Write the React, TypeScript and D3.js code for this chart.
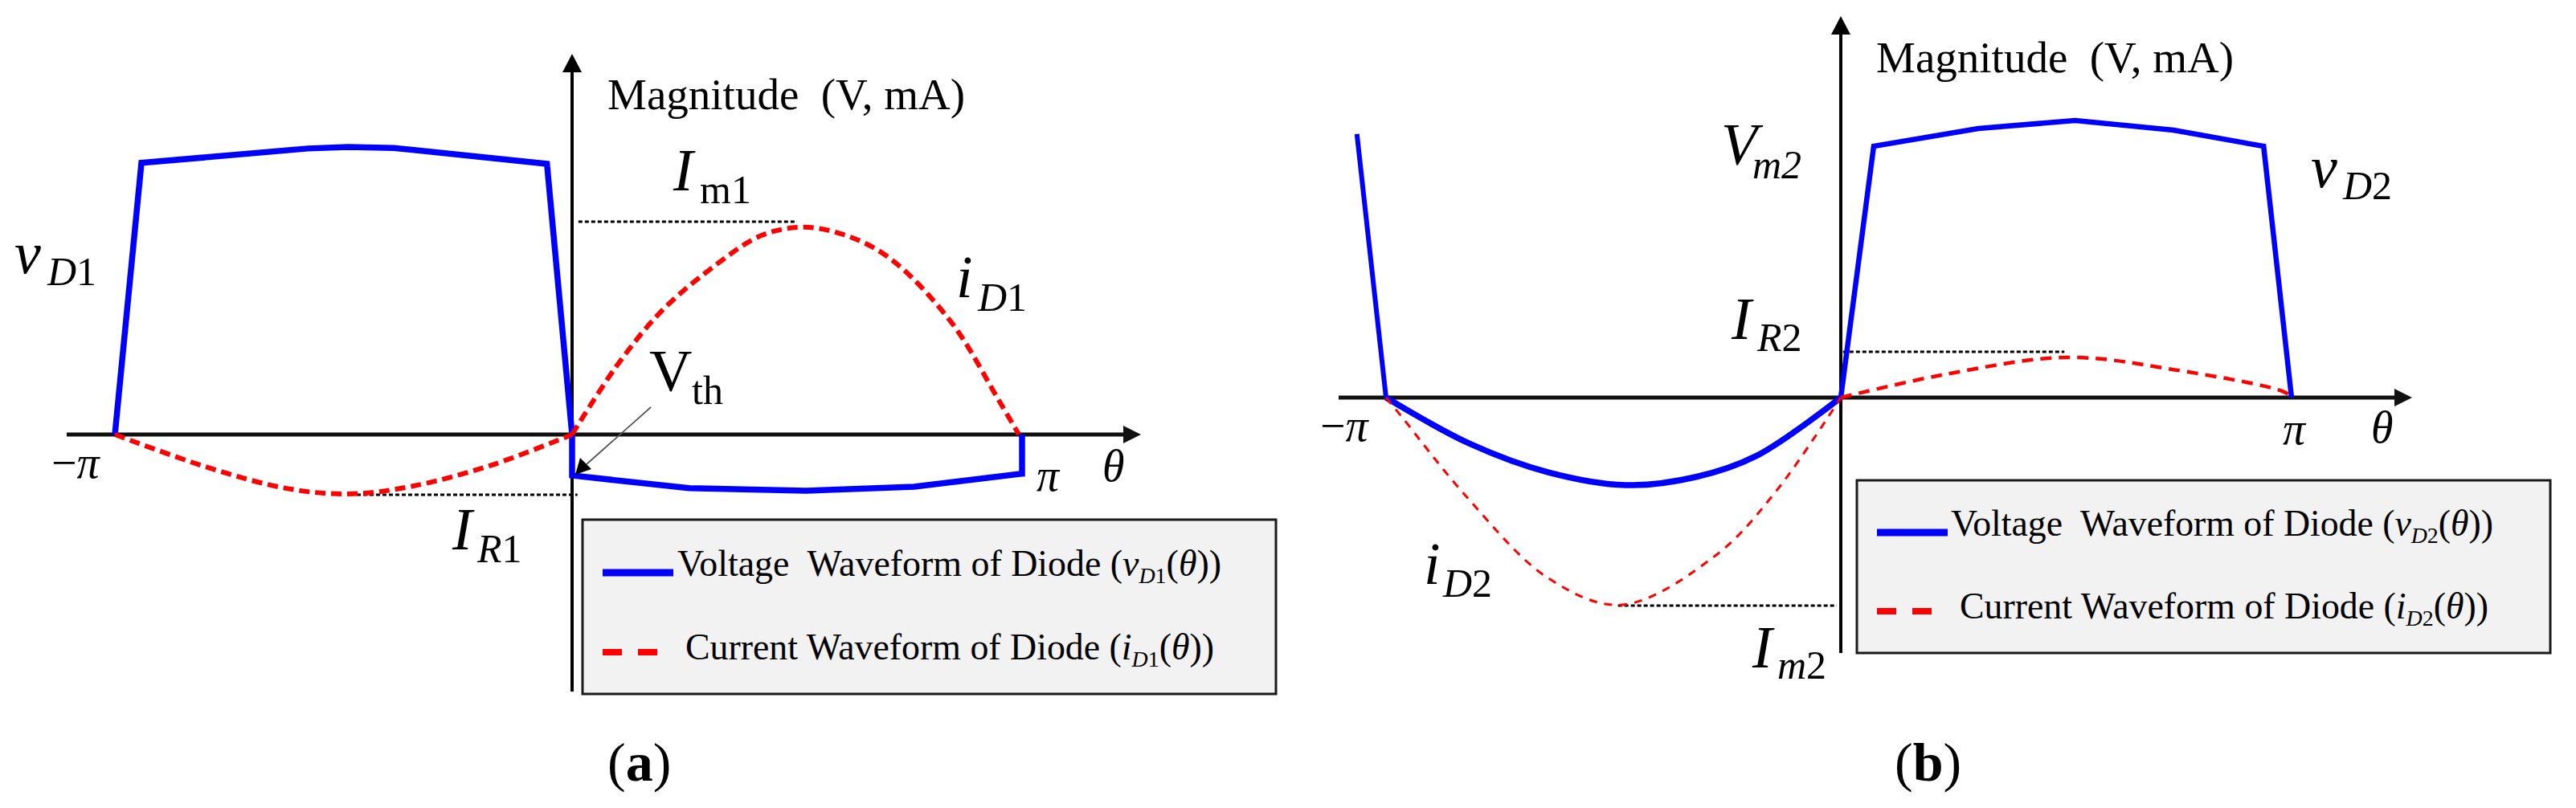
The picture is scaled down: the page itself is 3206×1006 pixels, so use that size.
import React from "react";
import * as d3 from "d3";

// ---------- data (theta in units of pi, magnitude in arbitrary V / mA units) ----------
// Panel (a)
const vD1: [number, number][] = [
  [-1, 0], [-0.942, 9.42], [-0.578, 9.92], [-0.49, 9.97], [-0.39, 9.94], [-0.055, 9.39],
  [0, 0], [0, -1.42], [0.26, -1.86], [0.52, -1.95], [0.76, -1.81], [1, -1.36], [1, 0],
];
const iD1Neg: [number, number][] = [
  [-1, 0], [-0.803, -1.11], [-0.624, -1.87], [-0.489, -2.06], [-0.355, -1.81], [-0.176, -1.06], [0, 0],
];
const iD1Pos: [number, number][] = [
  [0, 0], [0.1, 2.4], [0.2, 4.3], [0.321, 5.9], [0.42, 6.9], [0.511, 7.19], [0.6, 6.95],
  [0.702, 6.16], [0.841, 3.93], [0.95, 1.14], [0.993, 0],
];
const refA = [
  { value: 7.38, from: 0.014, to: 0.5 },   // I_m1
  { value: -2.09, from: -0.471, to: 0.012 }, // I_R1
];

// Panel (b)
const vD2Lead: [number, number][] = [[-1.064, 9.51], [-1, 0]];
const vD2Neg: [number, number][] = [
  [-1, 0], [-0.814, -1.68], [-0.643, -2.7], [-0.473, -3.16], [-0.32, -2.87], [-0.184, -2.09], [0, 0],
];
const vD2Pos: [number, number][] = [
  [0, 0], [0.073, 9.07], [0.305, 9.71], [0.52, 10.0], [0.738, 9.65], [0.938, 9.07], [1, 0],
];
const iD2Neg: [number, number][] = [
  [-1, 0], [-0.968, -0.64], [-0.825, -3.54], [-0.643, -6.52], [-0.482, -7.48], [-0.274, -5.68],
  [-0.14, -3.33], [0, 0],
];
const iD2Pos: [number, number][] = [
  [0, 0], [0.223, 0.81], [0.501, 1.45], [0.738, 1.01], [0.984, 0.2], [1, 0],
];
const refB = [
  { value: 1.65, from: 0.005, to: 0.496 },   // I_R2
  { value: -7.51, from: -0.49, to: -0.009 }, // I_m2
];

const axisTitle = "Magnitude  (V, mA)";
const legendVoltage = "Voltage  Waveform of Diode (";
const legendCurrent = "Current Waveform of Diode (";

// ---------- scales ----------
const xA = d3.scaleLinear().domain([-1, 0, 1]).range([143, 712, 1272]);
const yA = d3.scaleLinear().domain([0, 10]).range([541, 182]);
const xB = d3.scaleLinear().domain([-1, 0, 1]).range([1725, 2291, 2852]);
const yB = d3.scaleLinear().domain([0, 10]).range([495, 150]);

const FONT = "'Liberation Serif', 'Times New Roman', serif";
const BLUE = "#0000ff";
const RED = "#ff0000";

function mkLine(x: any, y: any, curve: any) {
  return d3.line<[number, number]>().x((d) => x(d[0])).y((d) => y(d[1])).curve(curve);
}

function Arrow({ x1, y1, x2, y2, head = 22, half = 12, w = 4, color = "#000" }: any) {
  const ang = Math.atan2(y2 - y1, x2 - x1);
  const bx = x2 - head * Math.cos(ang);
  const by = y2 - head * Math.sin(ang);
  const px = -Math.sin(ang) * half;
  const py = Math.cos(ang) * half;
  return (
    <g>
      <line x1={x1} y1={y1} x2={bx} y2={by} stroke={color} strokeWidth={w} />
      <path d={`M${x2},${y2}L${bx + px},${by + py}L${bx - px},${by - py}Z`} fill={color} />
    </g>
  );
}

function Sub({ x, y, main, mainItalic = true, sub, sx, sy }: any) {
  return (
    <g fontFamily={FONT} fill="#000">
      <text x={x} y={y} fontSize={74} fontStyle={mainItalic ? "italic" : "normal"}>{main}</text>
      <text x={sx} y={sy} fontSize={50}>
        {sub.map((p: any, i: number) => (
          <tspan key={i} fontStyle={p.it ? "italic" : "normal"}>{p.t}</tspan>
        ))}
      </text>
    </g>
  );
}

function Legend({ x, y, w, h, lineY1, lineY2, textX1, textX2, tl1, tl2, sub }: any) {
  return (
    <g fontFamily={FONT}>
      <rect x={x} y={y} width={w} height={h} fill="#f2f2f2" stroke="#1a1a1a" strokeWidth={3} />
      <line x1={x + 25} x2={x + 113} y1={lineY1} y2={lineY1} stroke={BLUE} strokeWidth={9} />
      <text x={textX1} y={lineY1 + 4} fontSize={46} textLength={tl1} lengthAdjust="spacingAndGlyphs" style={{ whiteSpace: "pre" }}>
        {legendVoltage}
        <tspan fontStyle="italic">v</tspan>
        <tspan fontSize={28} dy={9} fontStyle="italic">D</tspan>
        <tspan fontSize={28}>{sub}</tspan>
        <tspan dy={-9}>(</tspan>
        <tspan fontStyle="italic">θ</tspan>
        <tspan>))</tspan>
      </text>
      <line x1={x + 25} x2={x + 93} y1={lineY2} y2={lineY2} stroke={RED} strokeWidth={8} strokeDasharray="24,20" />
      <text x={textX2} y={lineY2 + 9} fontSize={46} textLength={tl2} lengthAdjust="spacingAndGlyphs" style={{ whiteSpace: "pre" }}>
        {legendCurrent}
        <tspan fontStyle="italic">i</tspan>
        <tspan fontSize={28} dy={9} fontStyle="italic">D</tspan>
        <tspan fontSize={28}>{sub}</tspan>
        <tspan dy={-9}>(</tspan>
        <tspan fontStyle="italic">θ</tspan>
        <tspan>))</tspan>
      </text>
    </g>
  );
}

export default function App() {
  const linA = mkLine(xA, yA, d3.curveLinear);
  const smA = mkLine(xA, yA, d3.curveCatmullRom.alpha(0.5));
  const linB = mkLine(xB, yB, d3.curveLinear);
  const smB = mkLine(xB, yB, d3.curveCatmullRom.alpha(0.5));

  const ax0 = xA(0);
  const bx0 = xB(0);
  const ay0 = yA(0);
  const by0 = yB(0);

  return (
    <svg width={3206} height={1006} style={{ position: "absolute", left: 0, top: 0, background: "#fff" }} fontFamily={FONT}>
      <rect x={0} y={0} width={3206} height={1006} fill="#fff" />

      {/* ===================== Panel (a) ===================== */}
      <Arrow x1={83} y1={ay0} x2={1420} y2={ay0} head={22} half={11} w={5} color="#111" />
      <Arrow x1={ax0} y1={861} x2={ax0} y2={67} head={23} half={12} w={4} color="#000" />

      {refA.map((r, i) => (
        <line key={i} x1={xA(r.from)} x2={xA(r.to)} y1={yA(r.value)} y2={yA(r.value)}
          stroke="#000" strokeWidth={3} strokeDasharray="5,3" />
      ))}

      <path d={linA(vD1) as string} fill="none" stroke={BLUE} strokeWidth={7.5} />
      <path d={smA(iD1Neg) as string} fill="none" stroke={RED} strokeWidth={6} strokeDasharray="13,7" />
      <path d={smA(iD1Pos) as string} fill="none" stroke={RED} strokeWidth={6} strokeDasharray="13,7" />

      {/* Vth pointer */}
      <g>
        <line x1={810} y1={507} x2={730} y2={578} stroke="#555" strokeWidth={1.8} />
        <path d="M716,591 L722,570 L736,584 Z" fill="#000" />
      </g>

      <text x={756} y={136} fontSize={55} style={{ whiteSpace: "pre" }}>{axisTitle}</text>
      <Sub x={18} y={340} main="v" sub={[{ t: "D", it: true }, { t: "1" }]} sx={59} sy={355} />
      <Sub x={838} y={237} main="I" sub={[{ t: "m1" }]} sx={871} sy={253} />
      <Sub x={1190} y={370} main="i" sub={[{ t: "D", it: true }, { t: "1" }]} sx={1217} sy={387} />
      <Sub x={808} y={487} main="V" mainItalic={false} sub={[{ t: "th" }]} sx={861} sy={503} />
      <Sub x={563} y={684} main="I" sub={[{ t: "R", it: true }, { t: "1" }]} sx={594} sy={700} />
      <text x={64} y={595} fontSize={56}>−<tspan fontStyle="italic">π</tspan></text>
      <text x={1290} y={611} fontSize={56} fontStyle="italic">π</text>
      <text x={1372} y={599} fontSize={56} fontStyle="italic">θ</text>

      <Legend x={725} y={647} w={863} h={217} lineY1={713} lineY2={812} textX1={843} textX2={853} tl1={677} tl2={658} sub="1" />

      <text x={756} y={972} fontSize={68}>(<tspan fontWeight="bold">a</tspan>)</text>

      {/* ===================== Panel (b) ===================== */}
      <Arrow x1={1666} y1={by0} x2={3002} y2={by0} head={22} half={11} w={5} color="#111" />
      <Arrow x1={bx0} y1={813} x2={bx0} y2={20} head={23} half={12} w={4} color="#000" />

      {refB.map((r, i) => (
        <line key={i} x1={xB(r.from)} x2={xB(r.to)} y1={yB(r.value)} y2={yB(r.value)}
          stroke="#000" strokeWidth={3} strokeDasharray="5,3" />
      ))}

      <path d={linB(vD2Lead) as string} fill="none" stroke={BLUE} strokeWidth={6} />
      <path d={smB(vD2Neg) as string} fill="none" stroke={BLUE} strokeWidth={7.5} />
      <path d={linB(vD2Pos) as string} fill="none" stroke={BLUE} strokeWidth={6.5} />
      <path d={smB(iD2Neg) as string} fill="none" stroke={RED} strokeWidth={3} strokeDasharray="10,9" />
      <path d={smB(iD2Pos) as string} fill="none" stroke={RED} strokeWidth={4.5} strokeDasharray="14,9" />

      <text x={2335} y={90} fontSize={55} style={{ whiteSpace: "pre" }}>{axisTitle}</text>
      <Sub x={2142} y={205} main="V" sub={[{ t: "m2", it: true }]} sx={2181} sy={222} />
      <Sub x={2876} y={233} main="v" sub={[{ t: "D", it: true }, { t: "2" }]} sx={2916} sy={248} />
      <Sub x={2155} y={422} main="I" sub={[{ t: "R", it: true }, { t: "2" }]} sx={2187} sy={437} />
      <Sub x={1772} y={727} main="i" sub={[{ t: "D", it: true }, { t: "2" }]} sx={1796} sy={743} />
      <Sub x={2181} y={831} main="I" sub={[{ t: "m", it: true }, { t: "2" }]} sx={2212} sy={845} />
      <text x={1643} y={549} fontSize={56}>−<tspan fontStyle="italic">π</tspan></text>
      <text x={2841} y={553} fontSize={56} fontStyle="italic">π</text>
      <text x={2951} y={551} fontSize={56} fontStyle="italic">θ</text>

      <Legend x={2311} y={598} w={863} h={215} lineY1={663} lineY2={761} textX1={2428} textX2={2439} tl1={675} tl2={658} sub="2" />

      <text x={2358} y={972} fontSize={68}>(<tspan fontWeight="bold">b</tspan>)</text>
    </svg>
  );
}
